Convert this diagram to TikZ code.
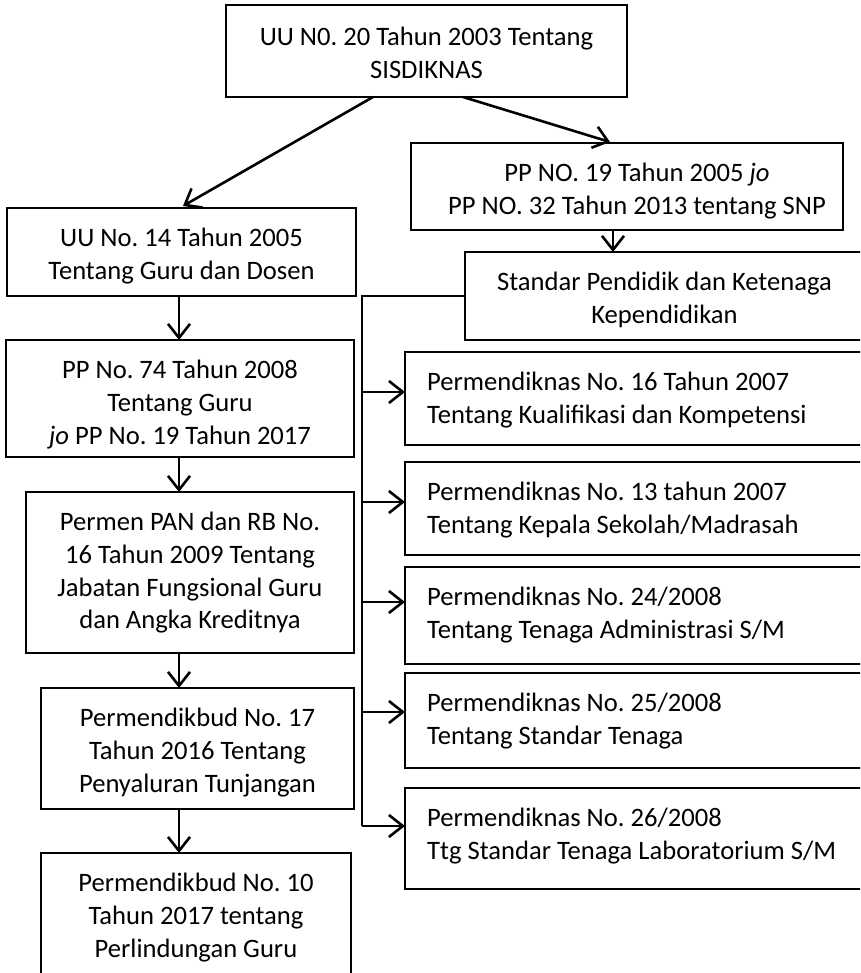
\documentclass[tikz,border=0pt]{standalone}
\usepackage{fontspec}
\setmainfont{Carlito}
\frenchspacing
\usetikzlibrary{arrows.meta}
\tikzset{
  box/.style={draw=black, line width=2.6pt, rectangle, inner sep=0pt, outer sep=0pt, fill=white},
  ctext/.style={anchor=north, inner sep=0pt, align=center, font=\fontsize{26.6}{32.7}\selectfont\frenchspacing, execute at begin node=\strut},
  ltext/.style={anchor=north west, inner sep=0pt, align=left, font=\fontsize{26.6}{32.7}\selectfont\frenchspacing, execute at begin node=\strut},
  conn/.style={draw=black, line width=2.6pt},
  arr/.style={conn, -{Straight Barb[length=14pt,width=22pt,line width=2.6pt]}}
}
\newcommand{\mybox}[5]{\node[box, anchor=north west, minimum width={(#4-#2)*1pt}, minimum height={(#5-#3)*1pt}] (#1) at (#2,#3) {};}
\begin{document}
\begin{tikzpicture}[x=1pt,y=-1pt]
\useasboundingbox (0,0) rectangle (860,973);
\clip (0,0) rectangle (860,973);
% boxes
\mybox{top}{226}{5}{627}{97}
\mybox{b1}{7}{208}{356}{296}
\mybox{b2}{6}{340}{354}{457}
\mybox{b3}{26}{492}{354}{653}
\mybox{b4}{41}{688}{354}{809}
\mybox{b5}{41}{853}{351}{995}
\mybox{pp}{411}{143}{843}{230}
\mybox{std}{465}{252}{864}{340}
\mybox{r1}{405}{352}{880}{445}
\mybox{r2}{405}{462}{880}{555}
\mybox{r3}{405}{567}{880}{664}
\mybox{r4}{405}{673}{880}{768}
\mybox{r5}{405}{788}{880}{889}
% texts
\node[ctext] (ttop) at ([yshift=-22pt]top.north) {UU N0. 20 Tahun 2003 Tentang\\SISDIKNAS};
\node[ctext] (tb1) at ([yshift=-20pt]b1.north) {UU No. 14 Tahun 2005\\Tentang Guru dan Dosen};
\node[ctext] (tb2) at ([yshift=-20pt]b2.north) {PP No. 74 Tahun 2008\\Tentang Guru\\\textit{jo} PP No. 19 Tahun 2017};
\node[ctext] (tb3) at ([yshift=-20pt]b3.north) {Permen PAN dan RB No.\\16 Tahun 2009 Tentang\\Jabatan Fungsional Guru\\dan Angka Kreditnya};
\node[ctext] (tb4) at ([yshift=-20pt]b4.north) {Permendikbud No. 17\\Tahun 2016 Tentang\\Penyaluran Tunjangan};
\node[ctext] (tb5) at ([yshift=-20pt]b5.north) {Permendikbud No. 10\\Tahun 2017 tentang\\Perlindungan Guru};
\node[ctext] (tpp) at ([xshift=10pt,yshift=-20pt]pp.north) {PP NO. 19 Tahun 2005 \textit{jo}\\PP NO. 32 Tahun 2013 tentang SNP};
\node[ctext] (tstd) at ([yshift=-20pt]std.north) {Standar Pendidik dan Ketenaga\\Kependidikan};
\node[ltext] (tr1) at ([xshift=22pt,yshift=-20pt]r1.north west) {Permendiknas No. 16 Tahun 2007\\Tentang Kualifikasi dan Kompetensi};
\node[ltext] (tr2) at ([xshift=22pt,yshift=-20pt]r2.north west) {Permendiknas No. 13 tahun 2007\\Tentang Kepala Sekolah/Madrasah};
\node[ltext] (tr3) at ([xshift=22pt,yshift=-20pt]r3.north west) {Permendiknas No. 24/2008\\Tentang Tenaga Administrasi S/M};
\node[ltext] (tr4) at ([xshift=22pt,yshift=-20pt]r4.north west) {Permendiknas No. 25/2008\\Tentang Standar Tenaga};
\node[ltext] (tr5) at ([xshift=22pt,yshift=-20pt]r5.north west) {Permendiknas No. 26/2008\\Ttg Standar Tenaga Laboratorium S/M};
% helper coordinates
\coordinate (axL) at (179,0);
\coordinate (dA) at (373,0);
\coordinate (dB) at (183,0);
\coordinate (dC) at (463,0);
\coordinate (dD) at (610,0);
\coordinate (axP) at (613,0);
\coordinate (bus) at (362,0);
% left column arrows
\draw[arr] (top.south -| dA) -- ([yshift=2pt]b1.north -| dB);
\draw[arr] (top.south -| dC) -- ([yshift=1pt]pp.north -| dD);
\draw[arr] (b1.south -| axL) -- (b2.north -| axL);
\draw[arr] (b2.south -| axL) -- (b3.north -| axL);
\draw[arr] (b3.south -| axL) -- (b4.north -| axL);
\draw[arr] (b4.south -| axL) -- (b5.north -| axL);
\draw[arr] (pp.south -| axP) -- (std.north -| axP);
% bus on the right
\draw[conn] (std.west) -- (std.west -| bus) -- (bus |- 0,826);
\draw[arr] (bus |- 0,392) -- (r1.west |- 0,392);
\draw[arr] (bus |- 0,502) -- (r2.west |- 0,502);
\draw[arr] (bus |- 0,602) -- (r3.west |- 0,602);
\draw[arr] (bus |- 0,712) -- (r4.west |- 0,712);
\draw[arr] (bus |- 0,826) -- (r5.west |- 0,826);
\end{tikzpicture}
\end{document}
